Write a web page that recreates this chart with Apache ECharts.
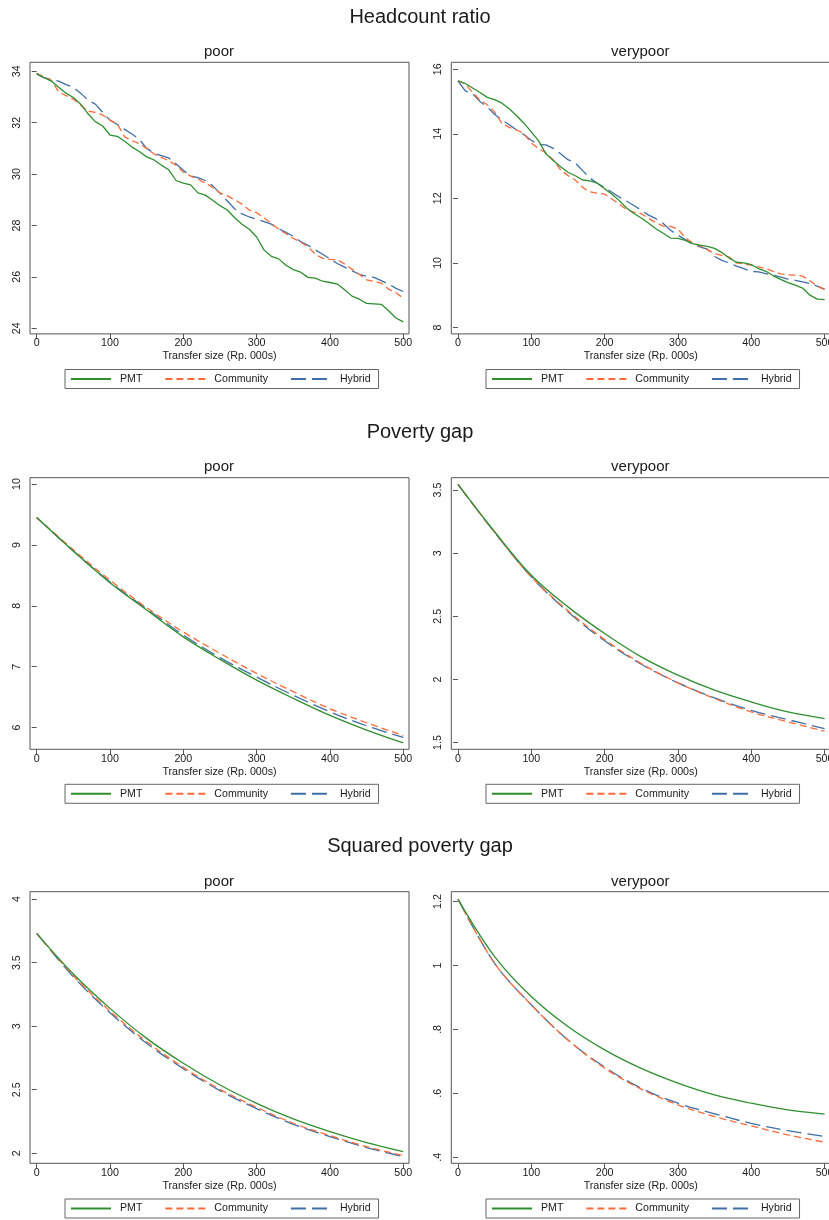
<!DOCTYPE html>
<html><head><meta charset="utf-8">
<script src="https://cdn.jsdelivr.net/npm/echarts@6/dist/echarts.min.js"></script>
<style>html,body{margin:0;padding:0;background:#fff}#c{width:829px;height:1220px}</style>
</head><body><div id="c"></div><script>
// ---------- data ----------
const seriesNames = ['PMT', 'Community', 'Hybrid'];
const rowTitles = ['Headcount ratio', 'Poverty gap', 'Squared poverty gap'];
const panelTitles = ['poor', 'verypoor'];
const xAxisTitle = 'Transfer size (Rp. 000s)';
const xTicks = [0, 100, 200, 300, 400, 500];

// transfer sizes used for the headcount curves
const xsFine = [0,10,20,30,40,50,60,70,80,90,100,110,120,130,140,150,160,170,180,190,200,210,220,230,240,250,260,270,280,290,300,310,320,330,340,350,360,370,380,390,400,410,420,430,440,450,460,470,480,490,500];
// transfer sizes used for the (smooth) gap curves
const xsCoarse = [0,50,100,150,200,250,300,350,400,450,500];

// Headcount ratio - poor
const hcPoorPMT = [33.9,33.75,33.62,33.38,33.15,32.98,32.72,32.35,32.04,31.87,31.52,31.47,31.28,31.05,30.88,30.67,30.55,30.35,30.17,29.75,29.65,29.58,29.27,29.18,28.98,28.77,28.6,28.3,28.05,27.85,27.55,27.05,26.8,26.7,26.45,26.28,26.18,25.98,25.95,25.83,25.78,25.72,25.5,25.25,25.13,24.97,24.95,24.93,24.68,24.4,24.25];
const hcPoorCommunity = [33.92,33.78,33.65,33.2,33.05,32.92,32.68,32.45,32.4,32.3,32.1,31.95,31.45,31.3,31.18,31.0,30.78,30.65,30.52,30.35,30.07,29.92,29.8,29.65,29.48,29.27,29.15,29.0,28.83,28.6,28.5,28.3,28.08,27.85,27.68,27.5,27.35,27.17,26.88,26.72,26.68,26.67,26.5,26.3,26.1,25.88,25.82,25.76,25.52,25.38,25.17];
const hcPoorHybrid = [33.9,33.75,33.68,33.62,33.48,33.38,33.15,32.88,32.72,32.4,32.1,31.93,31.74,31.56,31.35,31.0,30.81,30.72,30.63,30.4,30.15,29.93,29.86,29.75,29.55,29.25,28.95,28.65,28.45,28.33,28.25,28.15,28.05,27.88,27.73,27.58,27.37,27.23,27.05,26.88,26.7,26.52,26.38,26.24,26.1,26.02,25.98,25.85,25.72,25.55,25.43];
const hcPoorTicks = [24, 26, 28, 30, 32, 34];

// Headcount ratio - verypoor
const hcVeryPMT = [15.64,15.56,15.42,15.28,15.13,15.06,14.95,14.78,14.56,14.33,14.06,13.78,13.38,13.17,12.98,12.81,12.7,12.57,12.54,12.47,12.3,12.13,11.93,11.7,11.53,11.39,11.23,11.06,10.92,10.77,10.76,10.7,10.6,10.55,10.51,10.45,10.32,10.15,10.02,10.0,9.95,9.82,9.74,9.6,9.49,9.39,9.31,9.22,9.0,8.88,8.86];
const hcVeryCommunity = [15.64,15.55,15.28,15.05,14.9,14.68,14.32,14.2,14.12,14.01,13.71,13.55,13.41,13.19,12.88,12.71,12.57,12.34,12.2,12.16,12.13,11.98,11.82,11.65,11.57,11.53,11.38,11.25,11.14,11.13,11.05,10.78,10.62,10.53,10.41,10.29,10.23,10.18,10.0,9.97,9.93,9.88,9.82,9.74,9.66,9.63,9.62,9.59,9.45,9.28,9.17];
const hcVeryHybrid = [15.64,15.33,15.24,15.0,14.83,14.6,14.43,14.28,14.12,13.97,13.8,13.67,13.66,13.55,13.38,13.2,13.1,12.86,12.63,12.47,12.34,12.19,12.04,11.91,11.78,11.63,11.48,11.37,11.22,11.01,10.86,10.72,10.58,10.5,10.43,10.2,10.08,10.0,9.9,9.82,9.74,9.72,9.67,9.62,9.56,9.5,9.46,9.41,9.36,9.28,9.19];
const hcVeryTicks = [8, 10, 12, 14, 16];

// Poverty gap - poor
const pgPoorPMT = [9.45,8.9,8.38,7.93,7.49,7.12,6.78,6.48,6.2,5.96,5.75];
const pgPoorCommunity = [9.45,8.92,8.42,7.97,7.57,7.22,6.89,6.59,6.31,6.08,5.87];
const pgPoorHybrid = [9.45,8.9,8.39,7.95,7.52,7.15,6.83,6.53,6.26,6.03,5.84];
const pgPoorTicks = [6, 7, 8, 9, 10];

// Poverty gap - verypoor
const pgVeryPMT = [3.545,3.17,2.826,2.575,2.364,2.179,2.034,1.915,1.822,1.743,1.69];
const pgVeryCommunity = [3.545,3.165,2.813,2.544,2.316,2.126,1.973,1.849,1.743,1.664,1.59];
const pgVeryHybrid = [3.545,3.165,2.813,2.536,2.306,2.121,1.973,1.854,1.756,1.682,1.611];
const pgVeryTicks = [1.5, 2, 2.5, 3, 3.5];

// Squared poverty gap - poor
const spgPoorPMT = [3.73,3.41,3.14,2.904,2.708,2.537,2.393,2.27,2.17,2.084,2.013];
const spgPoorCommunity = [3.73,3.397,3.119,2.878,2.676,2.503,2.362,2.236,2.139,2.052,1.982];
const spgPoorHybrid = [3.73,3.389,3.106,2.865,2.666,2.493,2.351,2.228,2.131,2.045,1.974];
const spgPoorTicks = [2, 2.5, 3, 3.5, 4];

// Squared poverty gap - verypoor
const spgVeryPMT = [1.208,1.028,0.903,0.809,0.736,0.678,0.632,0.595,0.569,0.548,0.535];
const spgVeryCommunity = [1.208,1.007,0.877,0.767,0.679,0.613,0.564,0.527,0.498,0.47,0.447];
const spgVeryHybrid = [1.208,1.007,0.877,0.767,0.682,0.616,0.569,0.536,0.506,0.483,0.465];
const spgVeryTicks = [0.4, 0.6, 0.8, 1, 1.2];

// ---------- layout / style ----------
const FONT = '"Liberation Sans", Arial, Helvetica, sans-serif';
const TXT = '#1a1a1a';
const AX = '#555555';
const colors = { PMT: '#2f8f2f', Community: '#ff6a39', Hybrid: '#3f6fa6' };
const dashes = { PMT: 'solid', Community: [7, 4], Hybrid: [15, 6] };

const panels = [
  { row: 0, col: 0, xs: xsFine,   vals: [hcPoorPMT, hcPoorCommunity, hcPoorHybrid],     ticks: hcPoorTicks,  yMin: 23.78, yMax: 34.35, smooth: false },
  { row: 0, col: 1, xs: xsFine,   vals: [hcVeryPMT, hcVeryCommunity, hcVeryHybrid],     ticks: hcVeryTicks,  yMin: 7.80,  yMax: 16.217, smooth: false },
  { row: 1, col: 0, xs: xsCoarse, vals: [pgPoorPMT, pgPoorCommunity, pgPoorHybrid],     ticks: pgPoorTicks,  yMin: 5.644, yMax: 10.104, smooth: true },
  { row: 1, col: 1, xs: xsCoarse, vals: [pgVeryPMT, pgVeryCommunity, pgVeryHybrid],     ticks: pgVeryTicks,  yMin: 1.447, yMax: 3.598, smooth: true },
  { row: 2, col: 0, xs: xsCoarse, vals: [spgPoorPMT, spgPoorCommunity, spgPoorHybrid],  ticks: spgPoorTicks, yMin: 1.921, yMax: 4.058, smooth: true },
  { row: 2, col: 1, xs: xsCoarse, vals: [spgVeryPMT, spgVeryCommunity, spgVeryHybrid],  ticks: spgVeryTicks, yMin: 0.381, yMax: 1.231, smooth: true }
];
const rowTop = [62.3, 477.7, 891.7];
const gridH = 271.6;
const colLeft = [30, 451.3];
const gridW = 379;
const mainTitleTop = [7, 422, 836.5];
const subTitleTop = [44, 459, 874];
const legendTop = [369.5, 784.3, 1199];
const legendLeft = [65, 486];

const fmt = v => String(v).replace(/^0\./, '.');

const option = {
  backgroundColor: '#ffffff',
  animation: false,
  textStyle: { fontFamily: FONT },
  title: [], grid: [], xAxis: [], yAxis: [], series: [], legend: []
};

rowTitles.forEach((t, r) => {
  option.title.push({ text: t, left: 420, top: mainTitleTop[r], textAlign: 'center', padding: 0,
    textStyle: { fontSize: 20, fontWeight: 'normal', color: TXT, fontFamily: FONT } });
});

panels.forEach((p, i) => {
  const left = colLeft[p.col], top = rowTop[p.row];
  option.title.push({ text: panelTitles[p.col], left: left + gridW / 2 - 0.5, top: subTitleTop[p.row], textAlign: 'center', padding: 0,
    textStyle: { fontSize: 15, fontWeight: 'normal', color: TXT, fontFamily: FONT } });
  option.grid.push({ left: left, top: top, width: gridW, height: gridH, show: true,
    containLabel: false, outerBoundsMode: 'none',
    borderColor: AX, borderWidth: 1, backgroundColor: 'transparent' });
  option.xAxis.push({
    gridIndex: i, type: 'value', min: -9.1, max: 507.8,
    axisLine: { show: false }, splitLine: { show: false },
    axisTick: { show: true, length: 5, customValues: xTicks, lineStyle: { color: AX, width: 1 } },
    axisLabel: { customValues: xTicks, margin: 4, fontSize: 10.7, color: TXT, fontFamily: FONT },
    name: xAxisTitle, nameLocation: 'middle', nameGap: 17,
    nameTextStyle: { fontSize: 10.7, color: TXT, fontFamily: FONT }
  });
  option.yAxis.push({
    gridIndex: i, type: 'value', min: p.yMin, max: p.yMax,
    axisLine: { show: false }, splitLine: { show: false },
    axisTick: { show: true, length: 5, customValues: p.ticks, lineStyle: { color: AX, width: 1 } },
    axisLabel: { customValues: p.ticks, rotate: 90, margin: 7.5, fontSize: 10.7, color: TXT, fontFamily: FONT, formatter: fmt }
  });
  seriesNames.forEach((name, k) => {
    option.series.push({
      type: 'line', name: name, xAxisIndex: i, yAxisIndex: i,
      data: p.xs.map((x, j) => [x, p.vals[k][j]]),
      symbol: 'none', showSymbol: false, smooth: p.smooth ? 0.35 : false,
      lineStyle: { color: colors[name], width: 1.3, type: dashes[name] },
      itemStyle: { color: colors[name] },
      emphasis: { disabled: true }, silent: true, z: 3 - k
    });
  });
  option.legend.push({
    data: seriesNames, orient: 'horizontal',
    left: legendLeft[p.col], top: legendTop[p.row],
    padding: [4, 8, 4, 5], itemGap: 22, itemWidth: 40, itemHeight: 12,
    borderColor: '#666', borderWidth: 1, backgroundColor: '#fff',
    selectedMode: false,
    itemStyle: { opacity: 0 },
    textStyle: { fontSize: 10.6, color: TXT, fontFamily: FONT, padding: [0, 0, 0, 4] }
  });
});

const chart = echarts.init(document.getElementById('c'), null, { renderer: 'canvas' });
chart.setOption(option);
</script></body></html>
